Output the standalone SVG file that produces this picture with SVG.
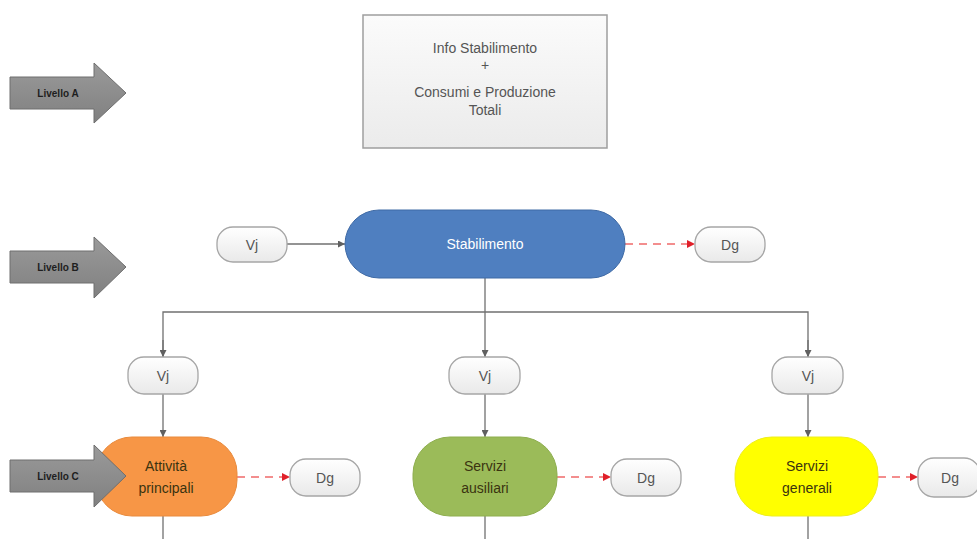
<svg xmlns="http://www.w3.org/2000/svg" width="977" height="539" viewBox="0 0 977 539">
<style>
.t{font-family:"Liberation Sans",Arial,sans-serif;text-anchor:middle}
.lv{font-size:10px;font-weight:bold;fill:#1e1e1e}
.vj{fill:url(#gv);stroke:#a6a6a6;stroke-width:1.3}
.vt{font-size:14px;fill:#555}
.ln{stroke:#707070;stroke-width:1.3;fill:none}
.rd{stroke:#f06a6a;stroke-width:1.6;stroke-dasharray:8 6;fill:none}
.lvl{fill:url(#ga);stroke:#6e6e6e;stroke-width:1}
.pt{font-size:14px;fill:#3a3310}
</style>
<defs>
<linearGradient id="gv" x1="0" y1="0" x2="0" y2="1"><stop offset="0" stop-color="#ffffff"/><stop offset="1" stop-color="#e9e9e9"/></linearGradient>
<linearGradient id="gb" x1="0" y1="0" x2="0" y2="1"><stop offset="0" stop-color="#fbfbfb"/><stop offset="1" stop-color="#ebebeb"/></linearGradient>
<linearGradient id="ga" x1="0" y1="0" x2="0" y2="1"><stop offset="0" stop-color="#9a9a9a"/><stop offset="1" stop-color="#808080"/></linearGradient>
<marker id="ah" viewBox="0 0 10 10" refX="10" refY="5" markerWidth="7" markerHeight="7" orient="auto" markerUnits="userSpaceOnUse"><path d="M0,0 L10,5 L0,10 z" fill="#606060"/></marker>
<marker id="ar" viewBox="0 0 10 10" refX="10" refY="5" markerWidth="8" markerHeight="8" orient="auto" markerUnits="userSpaceOnUse"><path d="M0,0 L10,5 L0,10 z" fill="#e0202a"/></marker>
</defs>
<rect width="977" height="539" fill="#ffffff"/>

<g id="connectors">
<line class="ln" x1="287" y1="244" x2="345" y2="244" marker-end="url(#ah)"/>
<line class="rd" x1="625" y1="244" x2="695" y2="244" marker-end="url(#ar)"/>
<line class="ln" x1="485" y1="278" x2="485" y2="357" marker-end="url(#ah)"/>
<polyline class="ln" points="163,357 163,312 808,312 808,357"/>
<line class="ln" x1="163" y1="340" x2="163" y2="357" marker-end="url(#ah)"/>
<line class="ln" x1="808" y1="340" x2="808" y2="357" marker-end="url(#ah)"/>
<line class="ln" x1="163" y1="394" x2="163" y2="437" marker-end="url(#ah)"/>
<line class="ln" x1="485" y1="394" x2="485" y2="437" marker-end="url(#ah)"/>
<line class="ln" x1="808" y1="394" x2="808" y2="437" marker-end="url(#ah)"/>
<line class="rd" x1="237" y1="477" x2="290" y2="477" marker-end="url(#ar)"/>
<line class="rd" x1="557" y1="477" x2="611" y2="477" marker-end="url(#ar)"/>
<line class="rd" x1="878" y1="477" x2="918" y2="477" marker-end="url(#ar)"/>
<line class="ln" x1="163" y1="516" x2="163" y2="539"/>
<line class="ln" x1="485" y1="516" x2="485" y2="539"/>
<line class="ln" x1="808" y1="516" x2="808" y2="539"/>
</g>

<g id="info">
<rect x="363" y="15" width="244" height="133" fill="url(#gb)" stroke="#9e9e9e" stroke-width="1.5"/>
<text class="t" font-size="14" fill="#555" x="485" y="53">Info Stabilimento</text>
<text class="t" font-size="14" fill="#555" x="485" y="70">+</text>
<text class="t" font-size="14" fill="#555" x="485" y="97">Consumi e Produzione</text>
<text class="t" font-size="14" fill="#555" x="485" y="115">Totali</text>
</g>

<g id="stabilimento">
<rect x="345" y="210" width="280" height="68" rx="34" fill="#4f7fc0" stroke="#3f6aa5" stroke-width="1"/>
<text class="t" font-size="14" fill="#ffffff" x="485" y="249">Stabilimento</text>
</g>

<g id="vj-top"><rect class="vj" x="217" y="227" width="70" height="35" rx="16"/><text class="t vt" x="252" y="250">Vj</text></g>
<g id="dg-top"><rect class="vj" x="695" y="227" width="70" height="35" rx="16"/><text class="t vt" x="730" y="250">Dg</text></g>

<g id="vj-1"><rect class="vj" x="128" y="357" width="70" height="37" rx="16"/><text class="t vt" x="163" y="381">Vj</text></g>
<g id="vj-2"><rect class="vj" x="449" y="357" width="71" height="37" rx="16"/><text class="t vt" x="485" y="381">Vj</text></g>
<g id="vj-3"><rect class="vj" x="772" y="357" width="71" height="37" rx="16"/><text class="t vt" x="808" y="381">Vj</text></g>

<g id="attivita">
<rect x="96" y="437" width="141" height="79" rx="36" fill="#f79646" stroke="#e98a3c" stroke-width="1"/>
<text class="t pt" x="166" y="471">Attività</text>
<text class="t pt" x="166" y="493">principali</text>
</g>
<g id="ausiliari">
<rect x="413" y="437" width="144" height="79" rx="37" fill="#9bbb59" stroke="#8eae4f" stroke-width="1"/>
<text class="t pt" x="485" y="471">Servizi</text>
<text class="t pt" x="485" y="493">ausiliari</text>
</g>
<g id="generali">
<rect x="735" y="437" width="143" height="79" rx="37" fill="#ffff00" stroke="#eeee20" stroke-width="1"/>
<text class="t pt" x="807" y="471">Servizi</text>
<text class="t pt" x="807" y="493">generali</text>
</g>

<g id="dg-1"><rect class="vj" x="290" y="459" width="70" height="37" rx="16"/><text class="t vt" x="325" y="483">Dg</text></g>
<g id="dg-2"><rect class="vj" x="611" y="459" width="70" height="37" rx="16"/><text class="t vt" x="646" y="483">Dg</text></g>
<g id="dg-3"><rect class="vj" x="918" y="458" width="62" height="39" rx="16"/><text class="t vt" x="950" y="483">Dg</text></g>

<g id="livello-a">
<path class="lvl" d="M10,77 H94 V63 L126,93 L94,123 V109 H10 Z"/>
<text class="t lv" x="58" y="97">Livello A</text>
</g>
<g id="livello-b">
<path class="lvl" d="M10,251 H94 V237 L126,267 L94,298 V283 H10 Z"/>
<text class="t lv" x="58" y="271">Livello B</text>
</g>
<g id="livello-c">
<path class="lvl" d="M10,460 H94 V445 L126,476 L94,507 V492 H10 Z"/>
<text class="t lv" x="58" y="480">Livello C</text>
</g>
</svg>
